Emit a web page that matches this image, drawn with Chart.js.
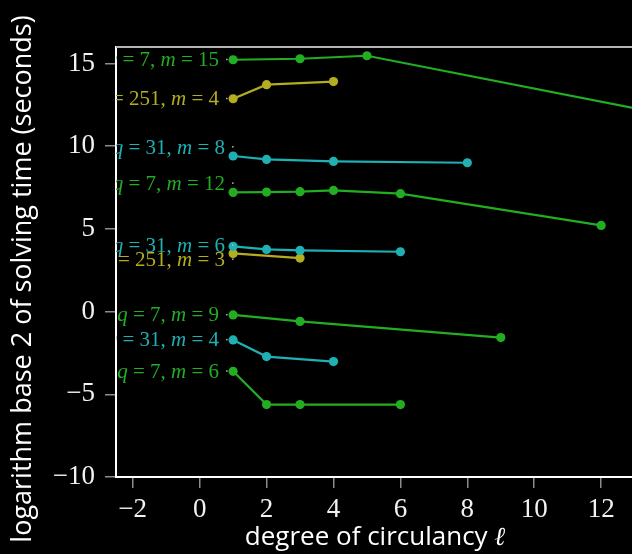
<!DOCTYPE html>
<html>
<head>
<meta charset="utf-8">
<script src="https://cdn.jsdelivr.net/npm/chart.js@4"></script>
<style>
  html, body { margin: 0; padding: 0; background: #000; overflow: hidden; }
  #wrap { width: 760px; height: 554px; }
</style>
</head>
<body>
<div id="wrap"><canvas id="chart" width="760" height="554"></canvas></div>
<script>
// one entry per curve, top to bottom
const fieldSizes = [7, 251, 31, 7, 31, 251, 7, 31, 7];
const extDegrees = [15, 4, 8, 12, 6, 3, 9, 4, 6];
const circDegrees = [
  [1, 3, 5, 15],
  [1, 2, 4],
  [1, 2, 4, 8],
  [1, 2, 3, 4, 6, 12],
  [1, 2, 3, 6],
  [1, 3],
  [1, 3, 9],
  [1, 2, 4],
  [1, 2, 3, 6]
];
const logTimes = [
  [15.23, 15.29, 15.47, 11.5],
  [12.87, 13.72, 13.91],
  [9.41, 9.20, 9.08, 9.00],
  [7.21, 7.23, 7.25, 7.33, 7.13, 5.21],
  [3.95, 3.76, 3.70, 3.62],
  [3.52, 3.24],
  [-0.20, -0.59, -1.57],
  [-1.71, -2.72, -3.02],
  [-3.61, -5.62, -5.62, -5.62]
];
const xTicks = [-2, 0, 2, 4, 6, 8, 10, 12, 14, 16];
const yTicks = [-10, -5, 0, 5, 10, 15];

const qColors = { 7: "#22ad22", 31: "#1fb0b4", 251: "#b3ad1f" };
// label nudges so the names don't collide
const labelShiftY = [0, 0, -9, -9, -1, 6, 0, 0, 0];

const serif = '"Liberation Serif", "DejaVu Serif", serif';
const sans = '"Open Sans", "Liberation Sans", sans-serif';

const datasets = circDegrees.map((xs, i) => {
  const c = qColors[fieldSizes[i]];
  return {
    data: xs.map((v, j) => ({ x: v, y: logTimes[i][j] })),
    borderColor: c,
    backgroundColor: c,
    borderWidth: 2.2,
    pointRadius: 4.6,
    pointBorderWidth: 0,
    tension: 0
  };
});

function minusFmt(v) {
  return v < 0 ? "\u2212" + Math.abs(v) : String(v);
}

const overlay = {
  id: "overlay",
  afterDatasetsDraw(chart) {
    const { ctx, chartArea: a, scales: { x, y } } = chart;
    ctx.save();
    // top/right frame
    ctx.strokeStyle = "#b4b4b4";
    ctx.lineWidth = 2;
    ctx.beginPath();
    ctx.moveTo(a.left, a.top);
    ctx.lineTo(a.right, a.top);
    ctx.lineTo(a.right, a.bottom);
    ctx.stroke();

    // curve names
    ctx.beginPath();
    ctx.rect(a.left, a.top, a.right - a.left, a.bottom - a.top);
    ctx.clip();
    ctx.textBaseline = "middle";
    ctx.textAlign = "left";
    chart.data.datasets.forEach((ds, i) => {
      const px = x.getPixelForValue(ds.data[0].x);
      const py = y.getPixelForValue(ds.data[0].y);
      const dy = labelShiftY[i];
      const ty = py + dy;
      const dotX = dy === 0 ? px - 6 : px;
      const parts = [
        ["q", true], [" = " + fieldSizes[i] + ", ", false],
        ["m", true], [" = " + extDegrees[i], false]
      ];
      let w = 0;
      parts.forEach(p => {
        ctx.font = (p[1] ? "italic " : "") + "21px " + serif;
        w += ctx.measureText(p[0]).width;
      });
      let cx = dotX - 8 - w;
      ctx.fillStyle = ds.borderColor;
      parts.forEach(p => {
        ctx.font = (p[1] ? "italic " : "") + "21px " + serif;
        ctx.fillText(p[0], cx, ty + 1);
        cx += ctx.measureText(p[0]).width;
      });
      ctx.fillStyle = "#bbbbbb";
      ctx.fillRect(dotX - 1, ty - 1, 1.5, 1.5);
    });
    ctx.restore();

    // axis titles
    ctx.save();
    ctx.fillStyle = "#ffffff";
    ctx.textBaseline = "alphabetic";
    const t1 = "degree of circulancy ";
    ctx.font = "26px " + sans;
    const w1 = ctx.measureText(t1).width;
    ctx.font = "italic 26px " + serif;
    const w2 = ctx.measureText("\u2113").width;
    let sx = 375 - (w1 + w2) / 2;
    ctx.font = "26px " + sans;
    ctx.fillText(t1, sx, 545);
    ctx.font = "italic 26px " + serif;
    ctx.fillText("\u2113", sx + w1, 545);

    ctx.translate(31, 279);
    ctx.rotate(-Math.PI / 2);
    ctx.textAlign = "center";
    ctx.font = "27px " + sans;
    ctx.fillText("logarithm base 2 of solving time (seconds)", 0, 0);
    ctx.restore();
  }
};

new Chart(document.getElementById("chart"), {
  type: "line",
  data: { datasets: datasets },
  plugins: [overlay],
  options: {
    responsive: false,
    animation: false,
    layout: { padding: { left: 0, top: 47, right: 25, bottom: 0 } },
    plugins: { legend: { display: false }, tooltip: { enabled: false } },
    scales: {
      x: {
        type: "linear",
        min: -2.5,
        max: 16,
        afterBuildTicks: s => { s.ticks = xTicks.map(v => ({ value: v })); },
        afterFit: s => { s.height = 77; },
        grid: { drawOnChartArea: false, drawTicks: true, tickLength: 11, color: "#8c8c8c", lineWidth: 1.5 },
        border: { color: "#ffffff", width: 2 },
        ticks: { color: "#f2f2f2", font: { family: serif, size: 27 }, padding: 6, callback: minusFmt, maxRotation: 0 }
      },
      y: {
        min: -10,
        max: 16,
        afterBuildTicks: s => { s.ticks = yTicks.map(v => ({ value: v })); },
        afterFit: s => { s.width = 116; },
        grid: { drawOnChartArea: false, drawTicks: true, tickLength: 11, color: "#8c8c8c", lineWidth: 1.5 },
        border: { color: "#ffffff", width: 2 },
        ticks: { color: "#f2f2f2", font: { family: serif, size: 27 }, padding: 10, callback: minusFmt }
      }
    }
  }
});
</script>
</body>
</html>
